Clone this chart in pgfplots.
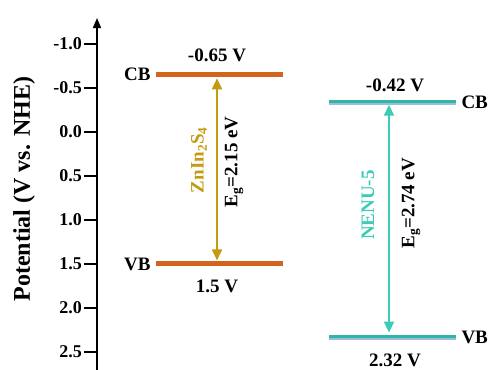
\documentclass[border=0pt]{standalone}
\usepackage{pgfplots}
\pgfplotsset{compat=1.18}
\usetikzlibrary{arrows.meta}
\usepackage{fontspec}
\setmainfont{Liberation Serif}
\definecolor{znbar}{HTML}{D2641E}
\definecolor{zngold}{HTML}{C49A12}
\definecolor{nenuteal}{HTML}{2DB8A2}
\definecolor{nenulight}{HTML}{9FB9E2}
\definecolor{nenuarrow}{HTML}{3CCBB4}
\newcommand{\lbl}{\bfseries\fontsize{19bp}{19bp}\selectfont}
\begin{document}
\begin{tikzpicture}
\useasboundingbox (-97bp,0) rectangle (398bp,370bp);
\begin{axis}[
  scale only axis, width=398bp, height=352bp,
  xmin=0, xmax=398, ymin=-1.295, ymax=2.705,
  y dir=reverse, enlargelimits=false, clip=false,
  axis x line=none, axis y line=left,
  y axis line style={line width=1.6bp, arrows={Triangle[length=10bp,width=8bp]-}},
  ytick={-1,-0.5,0,0.5,1,1.5,2,2.5},
  ytick pos=left, tick align=outside,
  major tick length=13bp,
  every tick/.style={line width=1.6bp, black},
  yticklabel style={font=\bfseries\fontsize{18bp}{18bp}\selectfont, inner sep=2bp},
  /pgf/number format/assume math mode=true,
  /pgf/number format/.cd, fixed, fixed zerofill, precision=1,
]
% ZnIn2S4 bands
\addplot[znbar, line width=5bp] coordinates {(59,-0.65) (186,-0.65)};
\addplot[znbar, line width=5bp] coordinates {(59,1.5) (186,1.5)};
% NENU-5 bands
\addplot[nenulight, line width=3bp] coordinates {(232,-0.32) (359,-0.32)};
\addplot[nenuteal, line width=3bp] coordinates {(232,-0.35) (359,-0.35)};
\addplot[nenulight, line width=3bp] coordinates {(232,2.35) (359,2.35)};
\addplot[nenuteal, line width=3bp] coordinates {(232,2.32) (359,2.32)};
% Band-gap arrows
\addplot[zngold, line width=1.8bp, arrows={Triangle[length=11bp,width=10bp]-Triangle[length=11bp,width=10bp]}]
  coordinates {(120,-0.61) (120,1.46)};
\addplot[nenuarrow, line width=1.8bp, arrows={Triangle[length=11bp,width=10bp]-Triangle[length=11bp,width=10bp]}]
  coordinates {(292,-0.31) (292,2.28)};
% Labels
\node[anchor=east, font=\lbl] at (axis cs:57,-0.65) {CB};
\node[anchor=east, font=\lbl] at (axis cs:57,1.5) {VB};
\node[font=\lbl] at (axis cs:120,-0.875) {-0.65 V};
\node[font=\lbl] at (axis cs:120,1.76) {1.5 V};
\node[anchor=west, font=\lbl] at (axis cs:361,-0.34) {CB};
\node[anchor=west, font=\lbl] at (axis cs:361,2.33) {VB};
\node[font=\lbl] at (axis cs:298,-0.53) {-0.42 V};
\node[font=\lbl] at (axis cs:298,2.59) {2.32 V};
\node[rotate=90, font=\lbl, text=zngold] at (axis cs:102,0.32) {ZnIn\textsubscript{2}S\textsubscript{4}};
\node[rotate=90, font=\lbl] at (axis cs:137,0.34) {E\textsubscript{g}=2.15 eV};
\node[rotate=90, font=\lbl, text=nenuarrow] at (axis cs:271,0.83) {NENU-5};
\node[rotate=90, font=\lbl] at (axis cs:314,0.81) {E\textsubscript{g}=2.74 eV};
\node[rotate=90, font=\bfseries\fontsize{24bp}{24bp}\selectfont] at (axis cs:-73,0.65) {Potential (V vs. NHE)};
\end{axis}
\end{tikzpicture}
\end{document}
